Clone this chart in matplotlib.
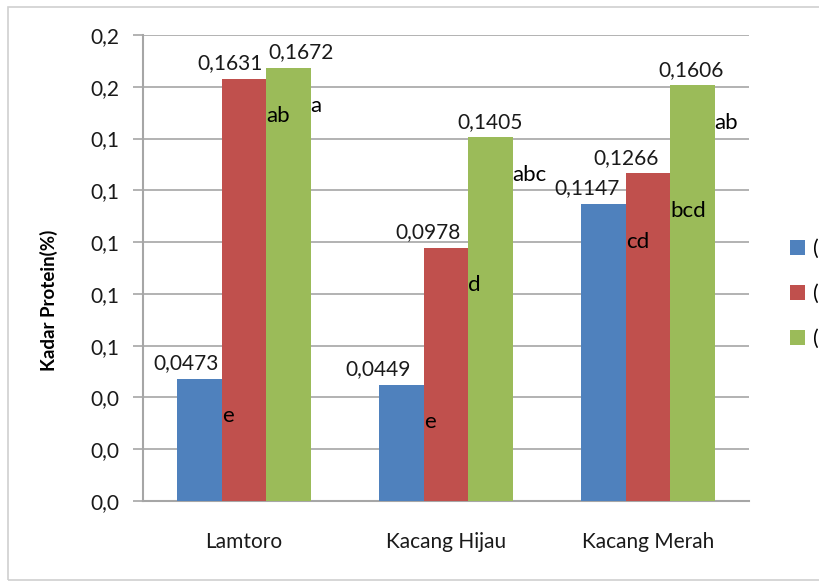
import numpy as np
import matplotlib.pyplot as plt
from matplotlib.patches import Rectangle
from matplotlib.ticker import FuncFormatter

plt.rcParams['font.family'] = ['Lato', 'DejaVu Sans']

# data
kategori = ['Lamtoro', 'Kacang Hijau', 'Kacang Merah']
seri = ['(1)', '(2)', '(2)']
nilai = [
    [0.0473, 0.0449, 0.1147],
    [0.1631, 0.0978, 0.1266],
    [0.1672, 0.1405, 0.1606],
]
huruf = [
    ['e', 'e', 'cd'],
    ['ab', 'd', 'bcd'],
    ['a', 'abc', 'ab'],
]
# horizontal nudge (points) of the value labels, as placed in the original
geser = [
    [-10, -17, -12],
    [-10, -13, -16],
    [9, 0, -1],
]
warna = ['#4F81BD', '#C0504D', '#9BBB59']

fig = plt.figure(figsize=(8.2, 5.81), dpi=100)
ax = fig.add_axes([143 / 820, 1 - 501 / 581, 606 / 820, 466 / 581])

# chart border
fig.patches.append(Rectangle((8 / 820, 1 - 580 / 581), 1.0, 573 / 581,
                             transform=fig.transFigure, fill=False,
                             edgecolor='#D0D0D0', linewidth=1.2))

x = np.arange(len(kategori))
lebar = 0.22
for i in range(3):
    pos = x + (i - 1) * lebar
    ax.bar(pos, nilai[i], width=lebar, color=warna[i], label=seri[i], zorder=3)
    for j in range(3):
        v = nilai[i][j]
        ax.annotate(('%.4f' % v).replace('.', ','), xy=(pos[j], v),
                    xytext=(geser[i][j], 4), textcoords='offset points',
                    ha='center', va='bottom', fontsize=15, color='#1a1a1a')
        ax.annotate(huruf[i][j], xy=(pos[j] + lebar / 2, v),
                    xytext=(0, -27), textcoords='offset points',
                    ha='left', va='center', fontsize=16, color='black', zorder=5)

ax.set_ylim(0, 0.18)
ax.set_yticks(np.arange(0, 0.181, 0.02))
ax.yaxis.set_major_formatter(FuncFormatter(lambda v, p: ('%.1f' % v).replace('.', ',')))
ax.set_xlim(-0.5, 2.5)
ax.set_xticks(x)
ax.set_xticklabels(kategori)

ax.grid(axis='y', color='#A6A6A6', linewidth=1.2, zorder=0)
for s in ['top', 'right']:
    ax.spines[s].set_visible(False)
for s in ['left', 'bottom']:
    ax.spines[s].set_color('#A6A6A6')
    ax.spines[s].set_linewidth(1.5)
ax.tick_params(axis='y', length=7, width=1.2, color='#A6A6A6', pad=10,
               labelsize=15, labelcolor='#1a1a1a')
ax.tick_params(axis='x', length=0, pad=22, labelsize=15, labelcolor='#1a1a1a')

ax.set_ylabel('Kadar Protein(%)', fontsize=13.5, fontweight='bold')
ax.yaxis.set_label_coords(-0.14, 0.43)

fig.legend(loc='center left', bbox_to_anchor=(782 / 820, 1 - 294 / 581),
           frameon=False, fontsize=15, handlelength=0.7, handleheight=0.7,
           handletextpad=0.4, labelspacing=1.2, borderaxespad=0)

fig.savefig('out.png', dpi=100)
